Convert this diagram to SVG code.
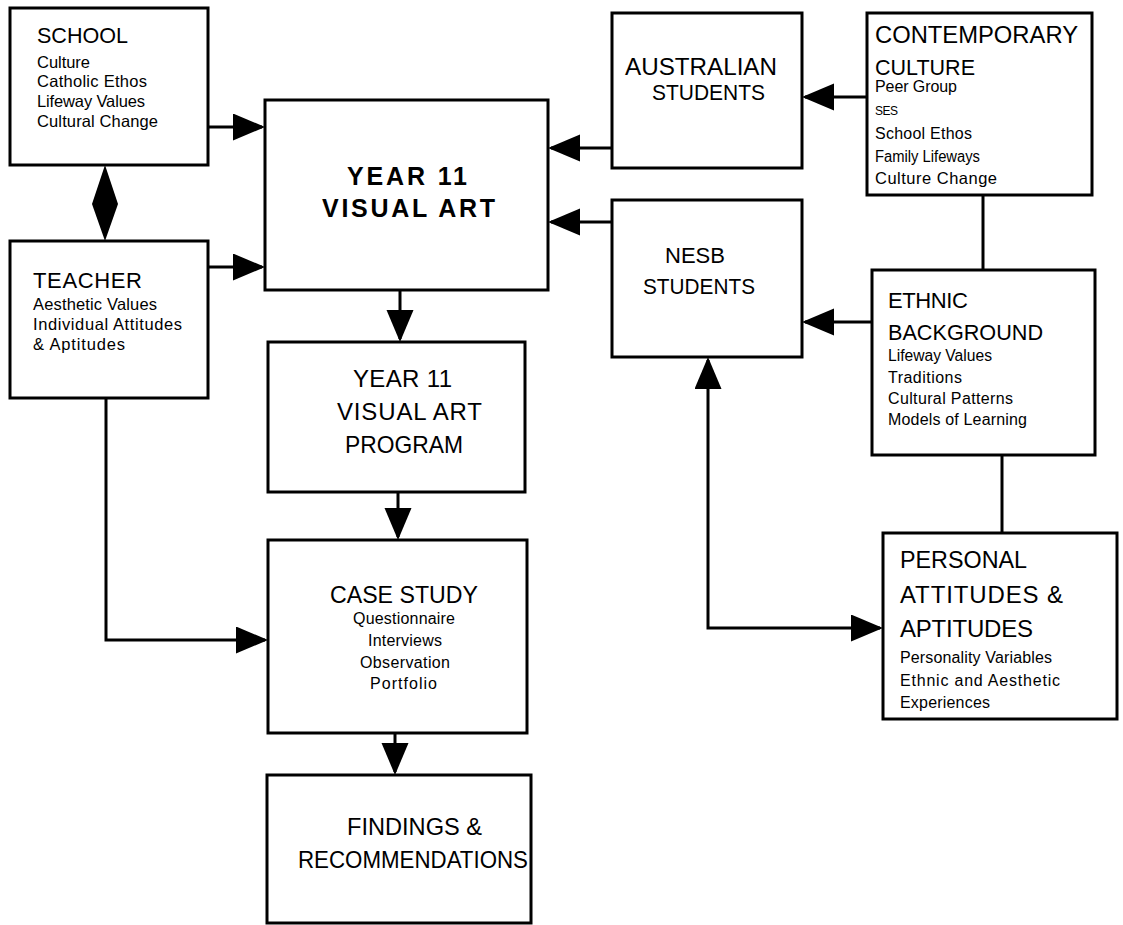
<svg xmlns="http://www.w3.org/2000/svg" width="1123" height="925" viewBox="0 0 1123 925">
<style>
.box{fill:#fff;stroke:#000;stroke-width:3}
text{font-family:"Liberation Sans",Arial,Helvetica,sans-serif;fill:#000}
.h{font-size:22px}
.h2{font-size:24px}
.b{font-size:25px;font-weight:bold}
.s{font-size:16.5px}
.t{font-size:16px}
.c{fill:none;stroke:#000;stroke-width:3}
</style>
<defs>
<marker id="ah" markerUnits="userSpaceOnUse" markerWidth="34" markerHeight="28" viewBox="0 0 34 28" refX="29" refY="13.5" orient="auto-start-reverse">
<path d="M0,0 L32,13.5 L0,27 Z" fill="#000"/>
</marker>
</defs>
<rect width="1123" height="925" fill="#fff"/>
<g id="connectors">
<line class="c" x1="208" y1="127" x2="262" y2="127" marker-end="url(#ah)"/>
<line class="c" x1="208" y1="267" x2="262" y2="267" marker-end="url(#ah)"/>
<line class="c" x1="612" y1="148" x2="551" y2="148" marker-end="url(#ah)"/>
<line class="c" x1="612" y1="222" x2="551" y2="222" marker-end="url(#ah)"/>
<line class="c" x1="867" y1="97" x2="805" y2="97" marker-end="url(#ah)"/>
<line class="c" x1="872" y1="322" x2="805" y2="322" marker-end="url(#ah)"/>
<line class="c" x1="983" y1="195" x2="983" y2="270"/>
<line class="c" x1="1002" y1="455" x2="1002" y2="533"/>
<line class="c" x1="400" y1="290" x2="400" y2="339" marker-end="url(#ah)"/>
<line class="c" x1="398" y1="492" x2="398" y2="537" marker-end="url(#ah)"/>
<line class="c" x1="395" y1="733" x2="395" y2="772" marker-end="url(#ah)"/>
<polyline class="c" points="106,398 106,640 265,640" marker-end="url(#ah)"/>
<polyline class="c" points="708,360 708,628 880,628" marker-start="url(#ah)" marker-end="url(#ah)"/>
<polygon points="105,165 118,204 105,241 92,204" fill="#000"/>
</g>
<g id="school">
<rect class="box" x="10" y="8" width="198" height="157"/>
<text class="h" x="37" y="43" textLength="91" lengthAdjust="spacingAndGlyphs">SCHOOL</text>
<text class="s" x="37" y="68" textLength="53">Culture</text>
<text class="s" x="37" y="87" textLength="110">Catholic Ethos</text>
<text class="s" x="37" y="107" textLength="108">Lifeway Values</text>
<text class="s" x="37" y="127" textLength="121">Cultural Change</text>
</g>
<g id="teacher">
<rect class="box" x="10" y="241" width="198" height="157"/>
<text class="h" x="33" y="288" textLength="109">TEACHER</text>
<text class="s" x="33" y="310" textLength="124">Aesthetic Values</text>
<text class="s" x="33" y="330" textLength="149">Individual Attitudes</text>
<text class="s" x="33" y="350" textLength="92">&amp; Aptitudes</text>
</g>
<g id="year11">
<rect class="box" x="265" y="100" width="283" height="190"/>
<text class="b" x="347" y="185" textLength="120">YEAR 11</text>
<text class="b" x="322" y="217" textLength="173">VISUAL ART</text>
</g>
<g id="australian">
<rect class="box" x="612" y="13" width="190" height="155"/>
<text class="h2" x="625" y="75" textLength="152" lengthAdjust="spacingAndGlyphs">AUSTRALIAN</text>
<text class="h" x="652" y="100" textLength="113" lengthAdjust="spacingAndGlyphs">STUDENTS</text>
</g>
<g id="nesb">
<rect class="box" x="612" y="200" width="190" height="157"/>
<text class="h" x="665" y="263" textLength="60">NESB</text>
<text class="h" x="643" y="294" textLength="112" lengthAdjust="spacingAndGlyphs">STUDENTS</text>
</g>
<g id="contemporary">
<rect class="box" x="867" y="13" width="225" height="182"/>
<text class="h2" x="875" y="43" textLength="203" lengthAdjust="spacingAndGlyphs">CONTEMPORARY</text>
<text class="h" x="875" y="75" textLength="100" lengthAdjust="spacingAndGlyphs">CULTURE</text>
<text class="t" x="875" y="92" textLength="82">Peer Group</text>
<text x="875" y="115" font-size="12" textLength="23">SES</text>
<text class="t" x="875" y="139" textLength="97">School Ethos</text>
<text class="t" x="875" y="162" textLength="105" lengthAdjust="spacingAndGlyphs">Family Lifeways</text>
<text class="s" x="875" y="184" textLength="122">Culture Change</text>
</g>
<g id="ethnic">
<rect class="box" x="872" y="270" width="223" height="185"/>
<text class="h" x="888" y="308" textLength="80">ETHNIC</text>
<text class="h" x="888" y="340" textLength="155" lengthAdjust="spacingAndGlyphs">BACKGROUND</text>
<text class="t" x="888" y="361" textLength="104" lengthAdjust="spacingAndGlyphs">Lifeway Values</text>
<text class="t" x="888" y="383" textLength="74">Traditions</text>
<text class="t" x="888" y="404" textLength="125">Cultural Patterns</text>
<text class="t" x="888" y="425" textLength="139">Models of Learning</text>
</g>
<g id="personal">
<rect class="box" x="883" y="533" width="234" height="186"/>
<text class="h2" x="900" y="568" textLength="127" lengthAdjust="spacingAndGlyphs">PERSONAL</text>
<text class="h2" x="900" y="603" textLength="163">ATTITUDES &amp;</text>
<text class="h2" x="900" y="637" textLength="133">APTITUDES</text>
<text class="t" x="900" y="663" textLength="152">Personality Variables</text>
<text class="t" x="900" y="686" textLength="160">Ethnic and Aesthetic</text>
<text class="t" x="900" y="708" textLength="90">Experiences</text>
</g>
<g id="program">
<rect class="box" x="268" y="342" width="257" height="150"/>
<text class="h2" x="353" y="387" textLength="99">YEAR 11</text>
<text class="h2" x="337" y="420" textLength="145">VISUAL ART</text>
<text class="h2" x="345" y="453" textLength="118" lengthAdjust="spacingAndGlyphs">PROGRAM</text>
</g>
<g id="casestudy">
<rect class="box" x="268" y="540" width="259" height="193"/>
<text class="h2" x="330" y="603" textLength="148" lengthAdjust="spacingAndGlyphs">CASE STUDY</text>
<text class="t" x="353" y="624" textLength="102">Questionnaire</text>
<text class="t" x="368" y="646" textLength="74">Interviews</text>
<text class="t" x="360" y="668" textLength="90">Observation</text>
<text class="t" x="370" y="689" textLength="67">Portfolio</text>
</g>
<g id="findings">
<rect class="box" x="267" y="775" width="264" height="148"/>
<text class="h2" x="347" y="835" textLength="135" lengthAdjust="spacingAndGlyphs">FINDINGS &amp;</text>
<text class="h2" x="298" y="868" textLength="230" lengthAdjust="spacingAndGlyphs">RECOMMENDATIONS</text>
</g>
</svg>
